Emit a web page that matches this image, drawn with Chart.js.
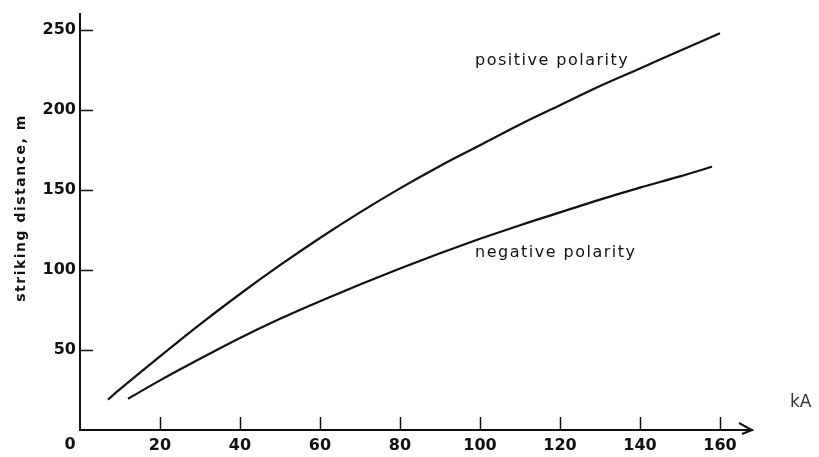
<!DOCTYPE html>
<html>
<head>
<meta charset="utf-8">
<script src="https://cdn.jsdelivr.net/npm/chart.js@4"></script>
<style>
  body { margin: 0; background: #fff; }
  #wrap { width: 819px; height: 457px; }
</style>
</head>
<body>
<div id="wrap"><canvas id="chartDiv"></canvas></div>
<script>
// values (current in kA, distance in m)
const posCurrent = [7, 10, 20, 30, 40, 50, 60, 70, 80, 90, 100, 110, 120, 130, 140, 150, 160]
const posDistance = [19, 25.5, 46, 66, 85, 103, 120, 136, 151, 165, 178, 191, 203, 215, 226, 237, 248]
const negCurrent = [12, 20, 30, 40, 50, 60, 70, 80, 90, 100, 110, 120, 130, 140, 150, 158]
const negDistance = [19.5, 31, 44.5, 57.5, 69.5, 80.5, 91, 101, 110.5, 119.5, 128, 136, 144, 151.5, 158.5, 164.5]
const xTicks = [0, 20, 40, 60, 80, 100, 120, 140, 160]
const yTicks = [50, 100, 150, 200, 250]

const toPoints = (xs, ys) => xs.map((x, i) => ({ x: x, y: ys[i] }))

const ink = '#111'

// inward tick marks, arrow, axis title and curve labels
const decorations = {
  id: 'decorations',
  afterDraw(chart) {
    const ctx = chart.ctx
    const xs = chart.scales.x
    const ys = chart.scales.y
    const area = chart.chartArea
    ctx.save()
    ctx.strokeStyle = ink
    ctx.lineWidth = 1.5
    xTicks.forEach(v => {
      if (v === 0) return
      const px = Math.round(xs.getPixelForValue(v)) + 0.5
      ctx.beginPath()
      ctx.moveTo(px, area.bottom)
      ctx.lineTo(px, area.bottom - 13)
      ctx.stroke()
    })
    yTicks.forEach(v => {
      const py = Math.round(ys.getPixelForValue(v)) + 0.5
      ctx.beginPath()
      ctx.moveTo(area.left, py)
      ctx.lineTo(area.left + 13, py)
      ctx.stroke()
    })

    // open arrow at the end of the current axis
    ctx.lineWidth = 2
    ctx.beginPath()
    ctx.moveTo(area.right - 13, area.bottom - 7)
    ctx.lineTo(area.right, area.bottom)
    ctx.lineTo(area.right - 10, area.bottom + 4)
    ctx.stroke()

    ctx.fillStyle = ink
    ctx.textBaseline = 'middle'

    // origin label sits left of the corner
    ctx.font = 'bold 16px "DejaVu Sans"'
    ctx.textAlign = 'center'
    ctx.fillText('0', xs.getPixelForValue(0) - 10, 445)

    // vertical axis title
    ctx.save()
    ctx.translate(21, 208)
    ctx.rotate(-Math.PI / 2)
    ctx.font = 'bold 14px "DejaVu Sans"'
    ctx.letterSpacing = '1.5px'
    ctx.fillText('striking distance, m', 0, 0)
    ctx.restore()

    ctx.textAlign = 'left'
    ctx.font = '16px "DejaVu Sans"'
    ctx.letterSpacing = '1.5px'
    ctx.fillText('positive polarity', xs.getPixelForValue(98.75), ys.getPixelForValue(231))
    ctx.fillText('negative polarity', xs.getPixelForValue(98.75), ys.getPixelForValue(110.6))

    ctx.letterSpacing = '0px'
    ctx.font = '17px "DejaVu Sans"'
    ctx.fillStyle = '#333'
    ctx.fillText('kA', xs.getPixelForValue(177.5), ys.getPixelForValue(17))
    ctx.restore()
  }
}

const chartElement = document.getElementById('chartDiv')

new Chart(chartElement, {
  type: 'line',
  data: {
    datasets: [{
      label: 'positive polarity',
      data: toPoints(posCurrent, posDistance),
      borderColor: ink,
      borderWidth: 2.2,
      pointRadius: 0,
      cubicInterpolationMode: 'monotone',
    }, {
      label: 'negative polarity',
      data: toPoints(negCurrent, negDistance),
      borderColor: ink,
      borderWidth: 2.2,
      pointRadius: 0,
      cubicInterpolationMode: 'monotone',
    }]
  },
  options: {
    responsive: true,
    maintainAspectRatio: false,
    animation: false,
    layout: {
      padding: { top: 14, right: 67, left: 0, bottom: 0 }
    },
    scales: {
      x: {
        type: 'linear',
        min: 0,
        max: 168,
        afterFit: scale => { scale.height = 27 },
        afterBuildTicks: scale => { scale.ticks = xTicks.map(v => ({ value: v })) },
        grid: {
          display: false,
          drawTicks: false
        },
        border: {
          display: true,
          color: ink,
          width: 2
        },
        ticks: {
          padding: 6,
          color: ink,
          callback: v => (v === 0 ? '' : v),
          font: {
            size: 16,
            family: '"DejaVu Sans"',
            weight: 'bold'
          }
        }
      },
      y: {
        type: 'linear',
        min: 0,
        max: 260,
        afterFit: scale => { scale.width = 80 },
        afterBuildTicks: scale => { scale.ticks = yTicks.map(v => ({ value: v })) },
        grid: {
          display: false,
          drawTicks: false
        },
        border: {
          display: true,
          color: ink,
          width: 2
        },
        ticks: {
          padding: 4,
          color: ink,
          font: {
            size: 16,
            family: '"DejaVu Sans"',
            weight: 'bold'
          }
        }
      }
    },
    plugins: {
      legend: {
        display: false
      },
      tooltip: {
        enabled: false
      }
    }
  },
  plugins: [decorations]
});
</script>
</body>
</html>
